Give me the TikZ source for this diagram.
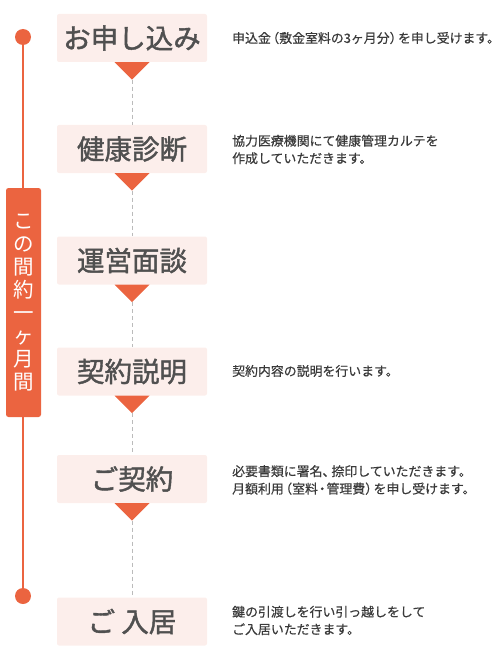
\documentclass[tikz,border=0pt]{standalone}
\usepackage{fontspec}
\usetikzlibrary{calc}
\setmainfont{Noto Sans CJK JP}
\newfontfamily\jp{Noto Sans CJK JP}
\newfontfamily\jptitle[FakeBold=1.5]{Noto Sans CJK JP}
\newfontfamily\jpdesc[FakeBold=0.5]{Noto Sans CJK JP}
\newcommand\lp{\kern-0.35em（}
\newcommand\rp{）\kern-0.35em}
\newcommand\md{\kern-0.17em・\kern-0.17em}
\newcommand\tk{、\kern-0.3em}
\definecolor{accent}{HTML}{EB6440}
\definecolor{boxpink}{HTML}{FCEEEB}
\definecolor{titlegray}{HTML}{505050}
\definecolor{descgray}{HTML}{3A3A3A}
\definecolor{dashgray}{HTML}{BBBBBB}
\tikzset{
  stepbox/.style={rectangle, rounded corners=2pt, fill=boxpink, minimum width=150pt, minimum height=48pt, inner sep=0pt, text=titlegray, font=\jptitle\fontsize{27.5}{30}\selectfont},
  desc/.style={anchor=west, align=left, inner sep=0pt, text=descgray, font=\jpdesc\fontsize{12.9}{17.5}\selectfont},
  tri/.style={fill=accent, draw=none},
  flowline/.style={dashgray, line width=0.8pt, dash pattern=on 4pt off 3pt},
  period/.style={rectangle, rounded corners=2.5pt, fill=accent, minimum width=35pt, minimum height=229pt, inner sep=0pt, text=white, font=\jp\fontsize{20.5}{23}\selectfont, align=center},
  dot/.style={circle, fill=accent, minimum size=16pt, inner sep=0pt},
}
\begin{document}
\begin{tikzpicture}[x=1pt,y=-1pt]
\useasboundingbox (0,0) rectangle (500,658);
% boxes
\node[stepbox] (b1) at (132,38) {お申し込み};
\node[stepbox] (b2) at (132,149) {健康診断};
\node[stepbox] (b3) at (132,260.5) {運営面談};
\node[stepbox] (b4) at (132,371.5) {契約説明};
\node[stepbox] (b5) at (132,479) {ご契約};
\node[stepbox] (b6) at (132,621.5) {ご 入居};
% triangle tips
\foreach \i in {1,...,5}{
  \coordinate (t\i) at ($(b\i.south)+(0,17.5)$);
}
% dashed connectors
\draw[flowline] (t1) -- (b2.north);
\draw[flowline] (t2) -- (b3.north);
\draw[flowline] (t3) -- (b4.north);
\draw[flowline] (t4) -- (b5.north);
\draw[flowline] (t5) -- (b6.north);
% triangles
\foreach \i in {1,...,5}{
  \fill[tri] ($(b\i.south)+(-17.5,0)$) -- ($(b\i.south)+(17.5,0)$) -- (t\i) -- cycle;
}
% timeline
\node[dot] (d1) at (23,37) {};
\node[dot] (d2) at (23,596) {};
\draw[accent, line width=2pt] (d1.center) -- (d2.center);
\node[period] (p) at (23.5,302.5) {こ\\の\\間\\約\\一\\ヶ\\月\\間};
% descriptions
\node[desc] (x1) at (232,38) {申込金\lp 敷金室料の3ヶ月分\rp を申し受けます。};
\node[desc] (x2) at (232,149.5) {協力医療機関にて健康管理カルテを\\作成していただきます。};
\node[desc] (x4) at (232,371) {契約内容の説明を行います。};
\node[desc] (x5) at (232,480) {必要書類に署名\tk 捺印していただきます。\\月額利用\lp 室料\md 管理費\rp を申し受けます。};
\node[desc] (x6) at (232,620.5) {鍵の引渡しを行い引っ越しをして\\ご入居いただきます。};
\end{tikzpicture}
\end{document}
